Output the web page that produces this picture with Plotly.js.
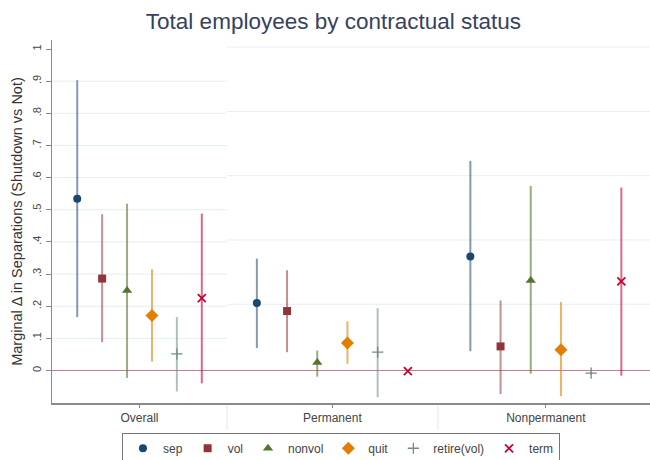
<!DOCTYPE html>
<html>
<head>
<meta charset="utf-8">
<script src="https://cdn.plot.ly/plotly-3.0.1.min.js"></script>
<style>
  html, body { margin: 0; padding: 0; background: #ffffff; }
  #chart { width: 650px; height: 460px; }
</style>
</head>
<body>
<div id="chart"></div>
<script>
// Marginal change in separations (shutdown vs not), point estimates with 95% CIs
const groups = ['Overall', 'Permanent', 'Nonpermanent'];
const seriesNames = ['sep', 'vol', 'nonvol', 'quit', 'retire(vol)', 'term'];

const sepEst = [0.534, 0.210, 0.355];
const sepLo  = [0.166, 0.070, 0.060];
const sepHi  = [0.903, 0.348, 0.652];

const volEst = [0.286, 0.185, 0.075];
const volLo  = [0.088, 0.057, -0.073];
const volHi  = [0.486, 0.312, 0.218];

const nonvolEst = [0.249, 0.025, 0.280];
const nonvolLo  = [-0.023, -0.019, -0.010];
const nonvolHi  = [0.519, 0.062, 0.574];

const quitEst = [0.171, 0.086, 0.065];
const quitLo  = [0.028, 0.021, -0.080];
const quitHi  = [0.315, 0.153, 0.213];

const retireEst = [0.052, 0.057, -0.008];
const retireLo  = [-0.065, -0.083, -0.014];
const retireHi  = [0.166, 0.194, -0.002];

const termEst = [0.225, -0.002, 0.277];
const termLo  = [-0.040, -0.005, -0.016];
const termHi  = [0.488, 0.001, 0.569];

const yTickVals = [0, 0.1, 0.2, 0.3, 0.4, 0.5, 0.6, 0.7, 0.8, 0.9, 1];
const yTickText = ['0', '.1', '.2', '.3', '.4', '.5', '.6', '.7', '.8', '.9', '1'];

// Horizontal layout of the three panels on a linear x axis
const groupCenter = [0.878, 2.813, 4.955];
const groupStep = [0.25, 0.303, 0.303];
const panelBreaks = [1.755, 3.872];
const xMax = 6;

const est = [sepEst, volEst, nonvolEst, quitEst, retireEst, termEst];
const lo = [sepLo, volLo, nonvolLo, quitLo, retireLo, termLo];
const hi = [sepHi, volHi, nonvolHi, quitHi, retireHi, termHi];

const colors = ['#1a476f', '#90353b', '#55752f', '#e37e00', '#6e8e84', '#c10534'];
const ciColors = ['rgba(26,71,111,0.55)', 'rgba(144,53,59,0.55)', 'rgba(85,117,47,0.6)',
                  'rgba(227,126,0,0.6)', 'rgba(110,142,132,0.55)', 'rgba(193,5,52,0.6)'];
const symbols = ['circle', 'square', 'triangle-up', 'diamond', 'cross-thin', 'x-thin'];
const sizes = [8, 8, 9, 10, 8, 8];

const traces = seriesNames.map((name, s) => {
  const xs = groups.map((g, i) => groupCenter[i] + (s - 2.5) * groupStep[i]);
  const thin = symbols[s].indexOf('thin') >= 0;
  return {
    type: 'scatter',
    mode: 'markers',
    name: name,
    x: xs,
    y: est[s],
    error_y: {
      type: 'data',
      symmetric: false,
      array: est[s].map((v, i) => hi[s][i] - v),
      arrayminus: est[s].map((v, i) => v - lo[s][i]),
      color: ciColors[s],
      thickness: 2,
      width: 0
    },
    marker: {
      symbol: symbols[s],
      size: sizes[s],
      color: colors[s],
      line: thin ? { color: colors[s], width: s === 4 ? 1.3 : 1.8 } : { width: 0 }
    },
    hoverinfo: 'x+y'
  };
});

// Gridlines: finer spacing in the first panel, coarser in the others
const shapes = [];
[0.1, 0.2, 0.3, 0.4, 0.5, 0.6, 0.7, 0.8, 0.9].forEach(v => {
  shapes.push({ type: 'line', xref: 'x', yref: 'y', x0: 0, x1: panelBreaks[0], y0: v, y1: v,
                line: { color: '#e4eef2', width: 1 }, layer: 'below' });
});
[0.2, 0.4, 0.6, 0.8, 1.0].forEach(v => {
  shapes.push({ type: 'line', xref: 'x', yref: 'y', x0: panelBreaks[0], x1: xMax, y0: v + 0.006, y1: v + 0.006,
                line: { color: '#e4eef2', width: 1 }, layer: 'below' });
});
panelBreaks.forEach(b => {
  shapes.push({ type: 'line', xref: 'x', yref: 'paper', x0: b, x1: b, y0: -0.005, y1: -0.075,
                line: { color: '#e2eaef', width: 1 } });
});

const layout = {
  width: 650,
  height: 460,
  paper_bgcolor: '#ffffff',
  plot_bgcolor: '#ffffff',
  margin: { l: 52, r: 0, t: 40, b: 57, autoexpand: false },
  font: { family: 'Liberation Sans, Arial, sans-serif', color: '#444444' },
  title: {
    text: 'Total employees by contractual status',
    font: { size: 22.5, color: '#37415f', family: 'Liberation Sans, Arial, sans-serif' },
    x: 0.513, xanchor: 'center', y: 0.955, yanchor: 'middle'
  },
  showlegend: true,
  legend: {
    orientation: 'h',
    x: 0.117, xanchor: 'left',
    y: -0.082, yanchor: 'top',
    bordercolor: '#777777', borderwidth: 1,
    bgcolor: '#ffffff',
    font: { size: 12, color: '#444444' },
    tracegroupgap: 0,
    itemclick: false
  },
  xaxis: {
    range: [0, xMax],
    tickvals: groupCenter,
    ticktext: groups,
    ticks: 'outside', ticklen: 3, tickcolor: '#888888', tickwidth: 1,
    tickfont: { size: 12, color: '#444444' },
    showgrid: false, zeroline: false,
    showline: true, linecolor: '#8a8a8a', linewidth: 1.5,
    fixedrange: true
  },
  yaxis: {
    range: [-0.101, 1.028],
    tickvals: yTickVals,
    ticktext: yTickText,
    tickangle: -90,
    ticks: 'outside', ticklen: 5, tickcolor: '#888888', tickwidth: 1,
    tickfont: { size: 11, color: '#444444' },
    showgrid: false,
    zeroline: true, zerolinecolor: '#c97a8e', zerolinewidth: 1.5,
    showline: true, linecolor: '#8a8a8a', linewidth: 1.5,
    title: {
      text: 'Marginal \u0394 in Separations (Shutdown vs Not)',
      font: { size: 14.5, color: '#333333' },
      standoff: 5
    },
    fixedrange: true
  },
  shapes: shapes
};

Plotly.newPlot('chart', traces, layout, { displayModeBar: false, staticPlot: true });
</script>
</body>
</html>
